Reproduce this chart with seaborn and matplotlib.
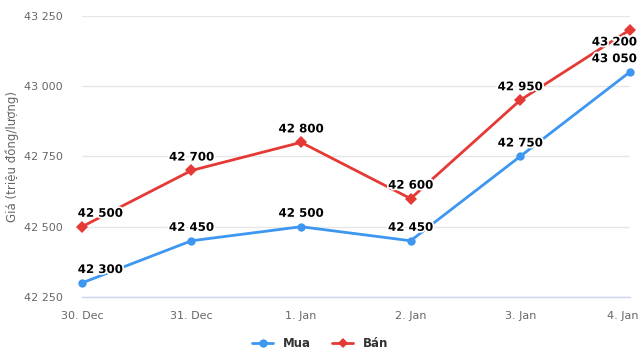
import matplotlib
matplotlib.use("Agg")
import matplotlib.pyplot as plt
import matplotlib.patheffects as pe
import matplotlib.transforms as mtrans
import seaborn as sns
import pandas as pd

dates = ["30. Dec", "31. Dec", "1. Jan", "2. Jan", "3. Jan", "4. Jan"]
mua = [42300, 42450, 42500, 42450, 42750, 43050]
ban = [42500, 42700, 42800, 42600, 42950, 43200]
yticks = [42250, 42500, 42750, 43000, 43250]

sns.set_theme(style="white")
plt.rcParams['font.family'] = ['DejaVu Sans']

df = pd.DataFrame({
    "x": list(range(len(dates))) * 2,
    "Giá": mua + ban,
    "series": ["Mua"] * len(dates) + ["Bán"] * len(dates),
})

fig = plt.figure(figsize=(6.4, 3.6), dpi=100)
ax = fig.add_axes([0.128, 0.175, 0.856, 0.781])

palette = {"Mua": "#3d96f0", "Bán": "#e53935"}
sns.lineplot(data=df, x="x", y="Giá", hue="series", style="series",
             markers={"Mua": "o", "Bán": "D"}, dashes=False,
             palette=palette, linewidth=2, markersize=6, markeredgewidth=0,
             ax=ax, legend=False)

def fmt(v):
    return f"{v:,}".replace(",", " ")

n = len(dates)
for series, vals in (("Mua", mua), ("Bán", ban)):
    for i, v in enumerate(vals):
        ha, off, va = "center", (0, 5), "bottom"
        if i == 0:
            ha, off = "left", (-3, 5)
        elif i == n - 1:
            ha, off = "right", (5, 5)
            if series == "Bán":
                off, va = (5, -4), "top"
        ax.annotate(fmt(v), (i, v), xytext=off, textcoords="offset points",
                    ha=ha, va=va, fontsize=8.5, fontweight="bold",
                    color="black",
                    path_effects=[pe.withStroke(linewidth=2.5, foreground="white")],
                    zorder=5)

ax.set_xlim(0, n - 1)
ax.set_ylim(42250, 43250)
ax.set_xticks(range(n))
ax.set_xticklabels(dates)
ax.set_yticks(yticks)
ax.set_yticklabels([fmt(v) for v in yticks])
ax.tick_params(axis="x", colors="#ccd6eb", labelcolor="#666666", labelsize=8,
               length=8, width=1, direction="out", pad=2)
ax.tick_params(axis="y", length=0, labelcolor="#666666", labelsize=8, pad=14)
ax.yaxis.grid(True, color="#e6e6e6", linewidth=1)
ax.set_axisbelow(True)
for s in ["top", "right", "left"]:
    ax.spines[s].set_visible(False)
ax.spines["bottom"].set_color("#ccd6eb")
ax.spines["bottom"].set_linewidth(1)
ax.set_xlabel("")
ax.set_ylabel("Giá (triệu đồng/lượng)", color="#666666", fontsize=8.5, labelpad=3)
xl = ax.get_xticklabels()
for lbl in xl:
    lbl.set_color("#666666")
xl[-1].set_horizontalalignment("right")
xl[-1].set_transform(xl[-1].get_transform() + mtrans.ScaledTranslation(6 / 72, 0, fig.dpi_scale_trans))
ax.margins(x=0)

from matplotlib.lines import Line2D
handles = [Line2D([], [], color=palette["Mua"], marker="o", lw=2, markersize=6, markeredgewidth=0),
           Line2D([], [], color=palette["Bán"], marker="D", lw=2, markersize=5, markeredgewidth=0)]
leg = fig.legend(handles, ["Mua", "Bán"], loc="center", bbox_to_anchor=(0.5, 0.045),
                 ncol=2, frameon=False, handlelength=1.8, columnspacing=1.8,
                 prop={"weight": "bold", "size": 8.5})
for t in leg.get_texts():
    t.set_color("#333333")

for l in ax.lines:
    l.set_clip_on(False)

fig.savefig("out.png", dpi=100)
